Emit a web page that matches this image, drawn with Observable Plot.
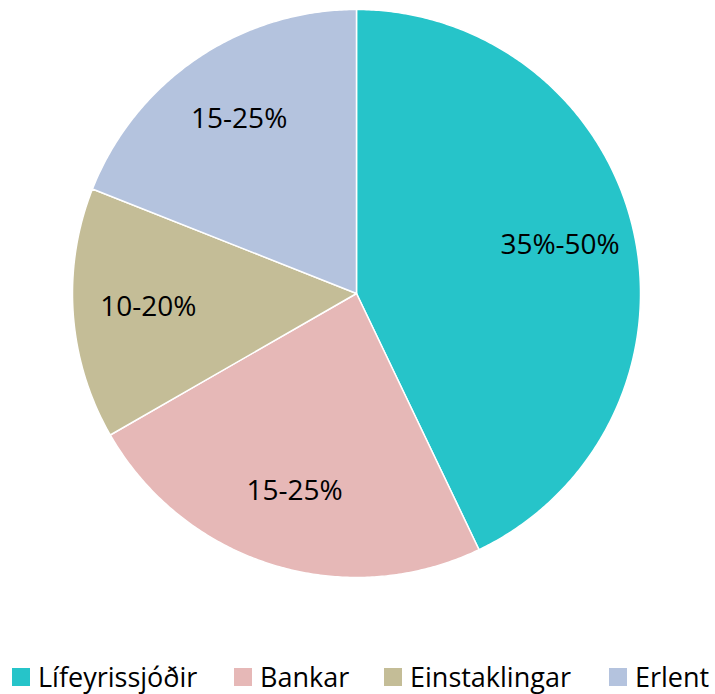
<!DOCTYPE html>
<html>
<head>
<meta charset="utf-8">
<script src="https://cdn.jsdelivr.net/npm/d3@7"></script>
<script src="https://cdn.jsdelivr.net/npm/@observablehq/plot@0.6"></script>
<style>
  body { margin: 0; background: #fff; font-family: "Open Sans", sans-serif; }
  #wrap { position: relative; width: 715px; height: 694px; overflow: hidden; }
  #legend { position: absolute; left: 0; top: 662px; width: 715px; height: 30px; font-size: 27px; line-height: 30px; color: #000; white-space: nowrap; }
  .item { position: absolute; top: 0; display: flex; align-items: center; gap: 8px; height: 30px; }
  .sw { width: 18px; height: 18px; display: inline-block; }
</style>
</head>
<body>
<div id="wrap"><div id="chart"></div><div id="legend"></div></div>
<script>
const categories = ["Lífeyrissjóðir", "Bankar", "Einstaklingar", "Erlent"];
const shares = [42.9, 23.8, 14.3, 19.0];
const labels = ["35%-50%", "15-25%", "10-20%", "15-25%"];
const colors = ["#26C4C9", "#E6B8B7", "#C4BD97", "#B4C3DE"];

const W = 715, H = 650, R = 284, CX = 356, CY = 293;
const arcs = d3.pie().sort(null).value(d => d)(shares);

// polygon outline per slice in unit coordinates (y up)
const polys = [];
arcs.forEach((a, i) => {
  const name = categories[i];
  polys.push({name, x: 0, y: 0});
  const n = Math.max(2, Math.ceil((a.endAngle - a.startAngle) / (Math.PI / 360)));
  for (let k = 0; k <= n; k++) {
    const t = a.startAngle + (a.endAngle - a.startAngle) * k / n;
    polys.push({name, x: Math.sin(t), y: Math.cos(t)});
  }
  polys.push({name, x: 0, y: 0});
});
const labelPts = arcs.map((a, i) => {
  const m = (a.startAngle + a.endAngle) / 2;
  return {label: labels[i], x: 0.735 * Math.sin(m), y: 0.735 * Math.cos(m)};
});

const chart = Plot.plot({
  width: W, height: H,
  margin: 0,
  x: {domain: [-CX / R, (W - CX) / R], axis: null},
  y: {domain: [-(H - CY) / R, CY / R], axis: null},
  color: {domain: categories, range: colors},
  style: {fontFamily: "Open Sans, sans-serif", background: "white"},
  marks: [
    Plot.line(polys, {x: "x", y: "y", z: "name", fill: "name", stroke: "white", strokeWidth: 1.5, curve: "linear"}),
    Plot.text(labelPts, {x: "x", y: "y", text: "label", fontSize: 28, fill: "black", dy: -2})
  ]
});
document.getElementById("chart").appendChild(chart);

const legendLeft = [12, 234, 384, 609];
const legend = document.getElementById("legend");
categories.forEach((c, i) => {
  const it = document.createElement("div");
  it.className = "item";
  it.style.left = legendLeft[i] + "px";
  it.innerHTML = `<span class="sw" style="background:${colors[i]}"></span><span>${c}</span>`;
  legend.appendChild(it);
});
</script>
</body>
</html>
